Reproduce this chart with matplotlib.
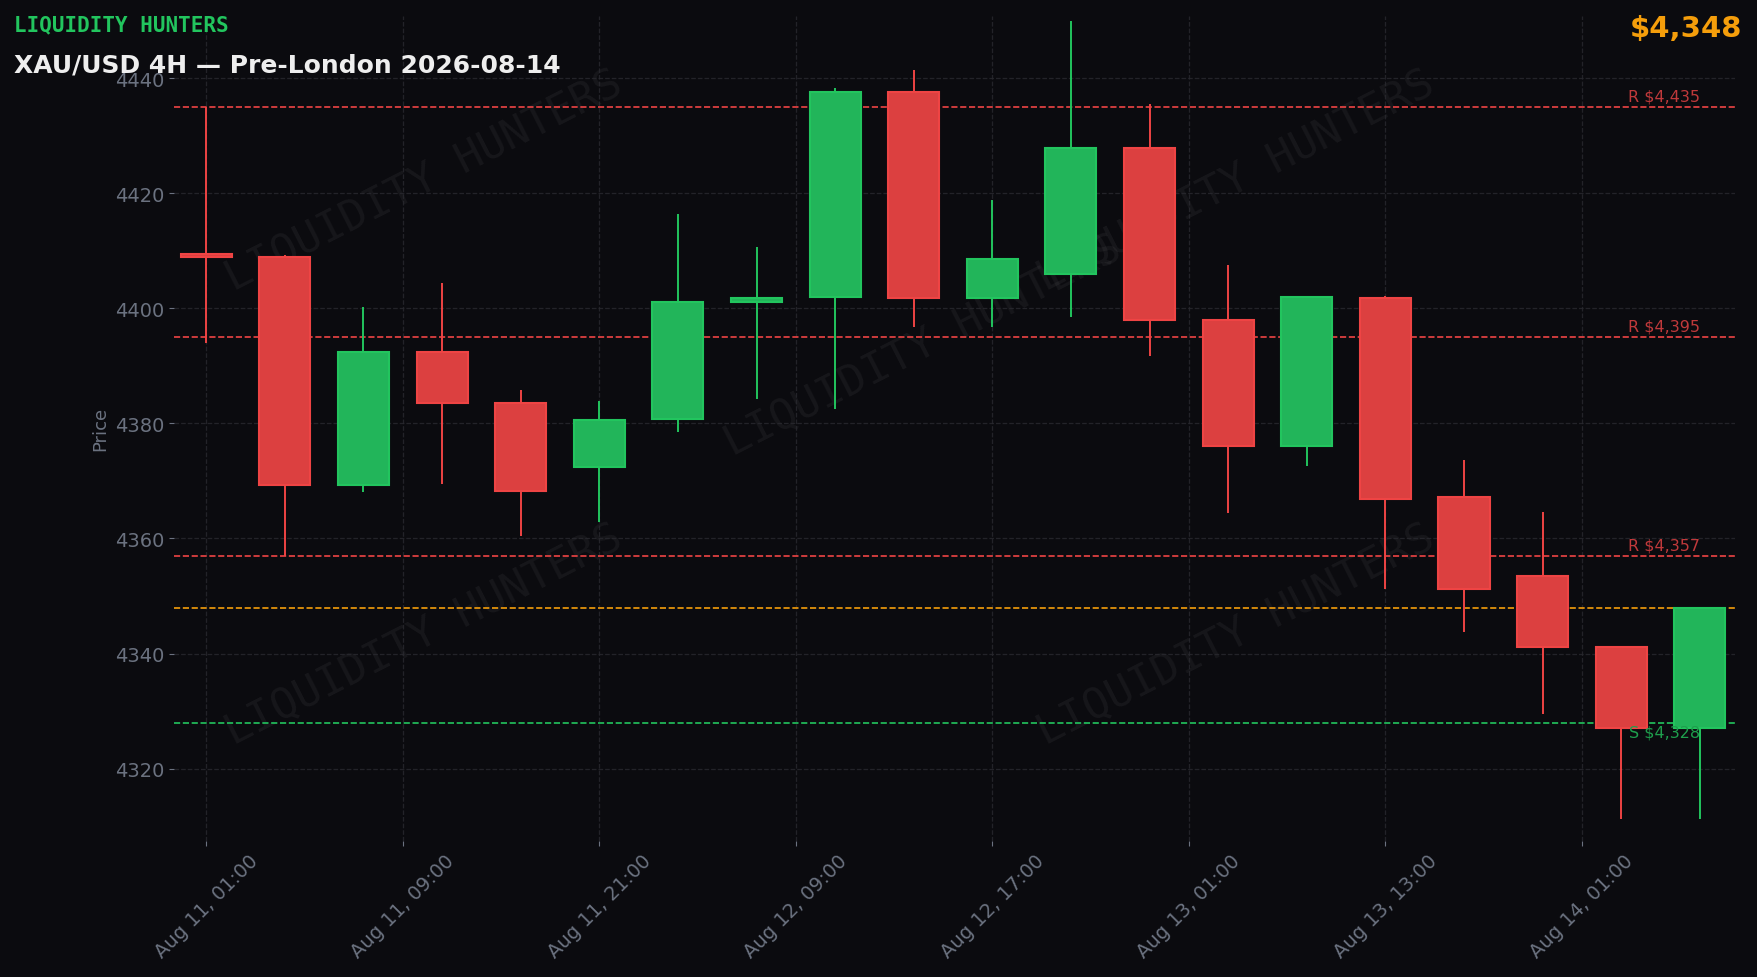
import numpy as np
import matplotlib
matplotlib.use("Agg")
from matplotlib import pyplot as plt

BG = '#0b0b0f'
UP = '#22c55e'
DOWN = '#ef4444'
ORANGE = '#f59e0b'

opens = [4409.5, 4409.0, 4369.3, 4392.5, 4383.5, 4372.4, 4380.8, 4401.2, 4402.0, 4437.7,
         4401.8, 4405.9, 4427.9, 4397.9, 4376.1, 4401.8, 4367.3, 4353.5, 4341.2, 4327.0]
highs = [4435.0, 4409.2, 4400.3, 4404.4, 4385.8, 4383.9, 4416.4, 4410.6, 4438.4, 4441.4,
         4418.8, 4449.9, 4435.5, 4407.5, 4402.0, 4402.2, 4373.6, 4364.6, 4341.2, 4348.0]
lows = [4394.0, 4357.0, 4368.0, 4369.5, 4360.5, 4362.9, 4378.6, 4384.3, 4382.5, 4396.8,
        4396.8, 4398.5, 4391.7, 4364.4, 4372.6, 4351.3, 4343.8, 4329.5, 4311.3, 4311.2]
closes = [4409.0, 4369.3, 4392.5, 4383.5, 4368.3, 4380.6, 4401.2, 4401.8, 4437.7, 4401.8,
          4408.6, 4427.9, 4397.9, 4376.1, 4402.0, 4366.9, 4351.3, 4341.2, 4327.0, 4348.0]
tick_labels = ['Aug 11, 01:00', 'Aug 11, 09:00', 'Aug 11, 21:00', 'Aug 12, 09:00',
               'Aug 12, 17:00', 'Aug 13, 01:00', 'Aug 13, 13:00', 'Aug 14, 01:00']
resistances = [4435, 4395, 4357]
support = 4328
last_price = 4348

fig = plt.figure(figsize=(17.58, 9.78), dpi=100, facecolor=BG)
ax = fig.add_axes([0.099, 0.139, 0.888, 0.844], facecolor=BG)

for i, (o, h, l, c) in enumerate(zip(opens, highs, lows, closes)):
    col = UP if c >= o else DOWN
    fill = '#22b55a' if c >= o else '#dc4040'
    ax.vlines(i, l, h, color=col, lw=1.4, zorder=3)
    bot = min(o, c)
    height = max(abs(c - o), 0.5)
    ax.bar(i, height, bottom=bot, width=0.65, color=fill, edgecolor=col, lw=1.5, zorder=4)

for r in resistances:
    ax.axhline(r, color=DOWN, ls='--', lw=1.2, zorder=2)
    ax.text(19.0, r + 0.6, f'R ${r:,}', color='#c0393b', fontsize=11.5, ha='right', va='bottom', zorder=5)
ax.axhline(support, color=UP, ls='--', lw=1.2, zorder=2)
ax.text(19.0, support - 0.3, f'S ${support:,}', color='#1e9e4c', fontsize=11.5, ha='right', va='top', zorder=5)
ax.axhline(last_price, color=ORANGE, ls='--', lw=1.2, zorder=2)

for x, y in [(0.16, 0.8), (0.48, 0.6), (0.68, 0.8), (0.16, 0.25), (0.68, 0.25)]:
    ax.text(x, y, 'LIQUIDITY HUNTERS', transform=ax.transAxes, rotation=27, fontsize=31,
            family='DejaVu Sans Mono', color='#ffffff', alpha=0.05, ha='center', va='center', zorder=1)

ax.set_xlim(-0.41, 19.45)
ax.set_ylim(4307.4, 4450.9)
ax.set_xticks(np.arange(len(tick_labels)) * 2.5)
ax.set_xticklabels(tick_labels, rotation=45, ha='center')
ax.set_yticks(np.arange(4320, 4441, 20))
ax.tick_params(colors='#6b7280', labelsize=14)
ax.set_ylabel('Price', color='#6b7280', fontsize=13)
ax.grid(True, color='#2a2a30', ls='--', lw=0.9, alpha=0.8)
for s in ax.spines.values():
    s.set_visible(False)

fig.text(0.008, 0.974, 'LIQUIDITY HUNTERS', color=UP, fontsize=15, fontweight='bold',
         family='DejaVu Sans Mono', va='center')
fig.text(0.008, 0.933, 'XAU/USD 4H — Pre-London 2026-08-14', color='#eeeeee', fontsize=18,
         fontweight='bold', va='center')
fig.text(0.991, 0.97, f'${last_price:,}', color=ORANGE, fontsize=21, fontweight='bold',
         ha='right', va='center')

fig.savefig('out.png', dpi=100, facecolor=BG)
